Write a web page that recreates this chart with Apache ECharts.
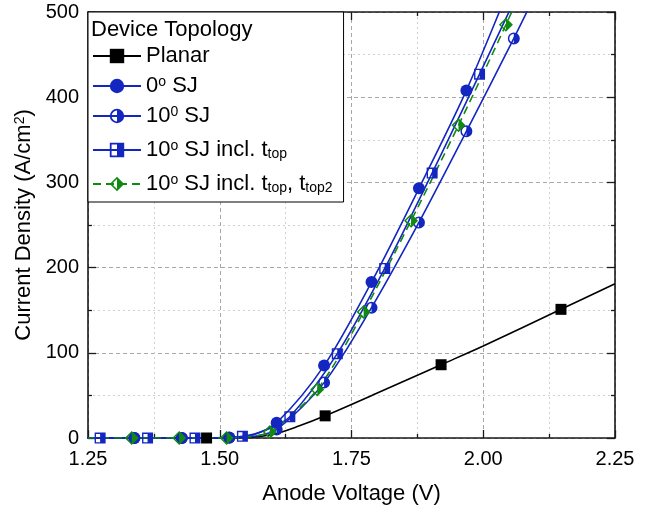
<!DOCTYPE html>
<html><head><meta charset="utf-8">
<script src="https://cdn.jsdelivr.net/npm/echarts@6/dist/echarts.min.js"></script>
<style>html,body{margin:0;padding:0;background:#fff}#c{width:662px;height:510px}</style>
</head><body><div id="c"></div>
<script>
// ---- data ----
const xTicks = [1.25, 1.50, 1.75, 2.00, 2.25];
const yTicks = [0, 100, 200, 300, 400, 500];

const seriesNames = ['Planar', '0o SJ', '10o SJ', '10o SJ incl. ttop', '10o SJ incl. ttop, ttop2'];

// Planar (black squares)
const planarMarkX = [1.475, 1.70, 1.92, 2.1475];
const planarMarkY = [0, 26, 86, 151];
const planarLineX = [1.25, 1.55, 1.60, 1.65, 1.80, 2.00, 2.25];
const planarLineY = [0, 0.5, 4, 14, 53, 108, 181];

// 0° SJ (filled circles)
const sj0MarkX = [1.248, 1.338, 1.428, 1.518, 1.608, 1.698, 1.788, 1.878, 1.968];
const sj0MarkY = [0, 0, 0, 0.5, 18, 85, 183, 293, 408];
const sj0LineX = [1.56, 2.06];
const sj0LineY = [3, 545];

// 10° SJ (half filled circles)
const sj10MarkX = [1.248, 1.338, 1.428, 1.518, 1.608, 1.698, 1.788, 1.878, 1.968, 2.058];
const sj10MarkY = [0, 0, 0, 0.3, 10, 65, 153, 253, 360, 469];
const sj10LineX = [1.565, 2.15];
const sj10LineY = [2, 585];

// 10° SJ incl. t_top (half filled squares)
const sjTopMarkX = [1.273, 1.363, 1.453, 1.543, 1.633, 1.723, 1.813, 1.903, 1.993];
const sjTopMarkY = [0, 0, 0, 2, 25, 99, 199, 311, 427];
const sjTopLineX = [1.25, 1.59, 2.083];
const sjTopLineY = [0, 10, 545];

// 10° SJ incl. t_top, t_top2 (half filled diamonds)
const sjTop2MarkX = [1.333, 1.423, 1.513, 1.595, 1.685, 1.773, 1.863, 1.953, 2.043];
const sjTop2MarkY = [0, 0, 0, 7, 57, 148, 255, 367, 485];
const sjTop2LineX = [1.25, 1.555, 2.13];
const sjTop2LineY = [0, 1.5, 605];

// ---- styling ----
const FONT = 'Liberation Sans, Arial, sans-serif';
const BLUE = '#1426c0';
const GREEN = '#108a10';

const halfCircle = 'path://M12 0 A12 12 0 1 1 12 24 A12 12 0 1 1 12 0 Z M12 3 A9 9 0 1 0 12 21 A9 9 0 1 0 12 3 Z M12 3 A9 9 0 0 1 12 21 Z';
const halfSquare = 'path://M0 0 L20 0 L20 20 L0 20 Z M2.5 2.5 L2.5 17.5 L17.5 17.5 L17.5 2.5 Z M10 2.5 L17.5 2.5 L17.5 17.5 L10 17.5 Z';
const halfDiamond = 'path://M12 0 L24 12 L12 24 L0 12 Z M12 3.5 L3.5 12 L12 20.5 L20.5 12 Z M12 3.5 L20.5 12 L12 20.5 Z';

function build(mx, my, lx, ly) {
  const pts = [];
  mx.forEach((x, i) => pts.push({ value: [x, my[i]] }));
  lx.forEach((x, i) => pts.push({ value: [x, ly[i]], symbol: 'none' }));
  pts.sort((a, b) => a.value[0] - b.value[0]);
  return pts;
}

const legendLabels = {
  'Planar': 'Planar',
  '0o SJ': '0{sup|o} SJ',
  '10o SJ': '10{sup|0} SJ',
  '10o SJ incl. ttop': '10{sup|o} SJ incl. t{sub|top}',
  '10o SJ incl. ttop, ttop2': '10{sup|o} SJ incl. t{sub|top}, t{sub|top2}'
};

function baseLine(name, data, color, symbol, size, dashed) {
  return {
    name, type: 'line', data, xAxisIndex: 0, yAxisIndex: 0,
    symbol, symbolSize: size, showAllSymbol: true,
    smooth: 0.3,
    clip: true,
    lineStyle: { color, width: 1.6, type: dashed ? [8, 5] : 'solid' },
    itemStyle: { color, borderWidth: 0 },
    emphasis: { disabled: true },
    animation: false
  };
}

const chart = echarts.init(document.getElementById('c'), null, { renderer: 'canvas' });

const axisCommon = {
  axisLine: { show: true, onZero: false, lineStyle: { color: '#1a1a1a', width: 1.6 } },
  axisTick: { show: true, inside: true, length: 8, lineStyle: { color: '#1a1a1a', width: 1.3 } },
  minorTick: { show: true, splitNumber: 2, length: 4, lineStyle: { color: '#1a1a1a', width: 1.3 } }
};

chart.setOption({
  animation: false,
  backgroundColor: '#fff',
  textStyle: { fontFamily: FONT },
  grid: { left: 88, right: 47, top: 12, bottom: 72 },
  title: {
    text: 'Device Topology', left: 91, top: 19, z: 10, padding: 0,
    textStyle: { fontFamily: FONT, fontSize: 22, fontWeight: 'normal', color: '#000' }
  },
  legend: {
    orient: 'vertical', left: 88, top: 12,
    padding: [33, 11, 7, 4], itemGap: 8, itemWidth: 48, itemHeight: 18,
    borderColor: '#000', borderWidth: 1, backgroundColor: '#fff',
    selectedMode: false, z: 5,
    data: seriesNames,
    formatter: n => legendLabels[n],
    textStyle: {
      fontFamily: FONT, fontSize: 22, color: '#000', lineHeight: 22,
      rich: {
        sup: { fontFamily: FONT, fontSize: 14, lineHeight: 14, verticalAlign: 'top', color: '#000' },
        sub: { fontFamily: FONT, fontSize: 14, lineHeight: 13, verticalAlign: 'bottom', padding: [12, 0, 0, 0], color: '#000' }
      }
    }
  },
  xAxis: [
    Object.assign({
      type: 'value', min: xTicks[0], max: xTicks[xTicks.length - 1], interval: 0.25, position: 'bottom',
      name: 'Anode Voltage (V)', nameLocation: 'middle', nameGap: 45,
      nameTextStyle: { fontFamily: FONT, fontSize: 22, color: '#000' },
      axisLabel: { fontFamily: FONT, fontSize: 20, color: '#000', margin: 11, formatter: v => v.toFixed(2) },
      splitLine: { show: true, lineStyle: { color: '#a8a8a8', type: [4, 3], width: 1 } },
      minorSplitLine: { show: true, lineStyle: { color: '#d0d0d0', type: [2, 3], width: 1 } }
    }, axisCommon),
    Object.assign({
      type: 'value', min: xTicks[0], max: xTicks[xTicks.length - 1], interval: 0.25, position: 'top',
      axisLabel: { show: false }, splitLine: { show: false }
    }, axisCommon)
  ],
  yAxis: [
    Object.assign({
      type: 'value', min: yTicks[0], max: yTicks[yTicks.length - 1], interval: 100, position: 'left',
      name: 'Current Density (A/cm{sup|2})', nameLocation: 'middle', nameGap: 43,
      nameTextStyle: { fontFamily: FONT, fontSize: 22, color: '#000',
        rich: { sup: { fontFamily: FONT, fontSize: 14, lineHeight: 14, verticalAlign: 'top', color: '#000' } } },
      axisLabel: { fontFamily: FONT, fontSize: 20, color: '#000', margin: 9 },
      splitLine: { show: true, lineStyle: { color: '#a8a8a8', type: [4, 3], width: 1 } },
      minorSplitLine: { show: true, lineStyle: { color: '#d0d0d0', type: [2, 3], width: 1 } }
    }, axisCommon),
    Object.assign({
      type: 'value', min: yTicks[0], max: yTicks[yTicks.length - 1], interval: 100, position: 'right',
      axisLabel: { show: false }, splitLine: { show: false }
    }, axisCommon)
  ],
  series: [
    baseLine(seriesNames[0], build(planarMarkX, planarMarkY, planarLineX, planarLineY), '#000', 'rect', 11, false),
    baseLine(seriesNames[1], build(sj0MarkX, sj0MarkY, sj0LineX, sj0LineY), BLUE, 'circle', 12, false),
    baseLine(seriesNames[2], build(sj10MarkX, sj10MarkY, sj10LineX, sj10LineY), BLUE, halfCircle, 12, false),
    baseLine(seriesNames[3], build(sjTopMarkX, sjTopMarkY, sjTopLineX, sjTopLineY), BLUE, halfSquare, 11, false),
    baseLine(seriesNames[4], build(sjTop2MarkX, sjTop2MarkY, sjTop2LineX, sjTop2LineY), GREEN, halfDiamond, 14, true)
  ]
});
</script></body></html>
